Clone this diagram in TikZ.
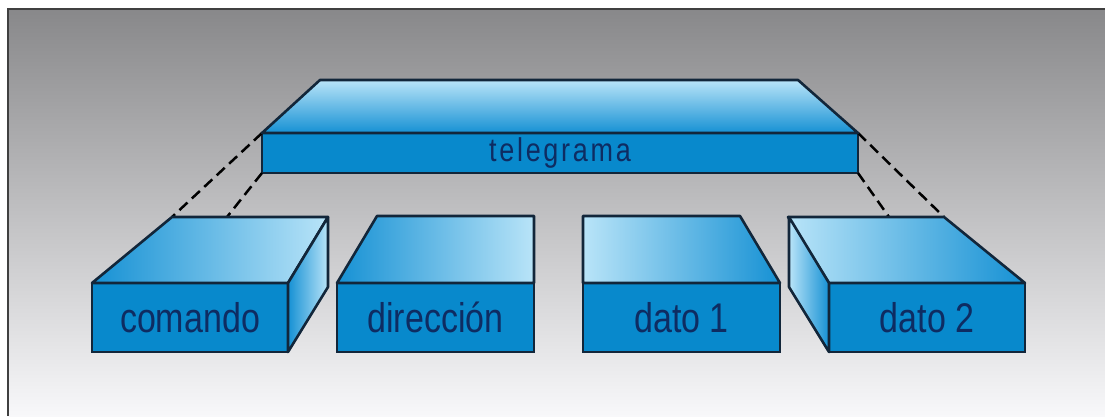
\documentclass[tikz,border=0pt]{standalone}
\usepackage{fontspec}
\setmainfont{Liberation Sans}
\usepackage{graphicx}
\usetikzlibrary{calc}
\definecolor{bgtop}{RGB}{136,136,138}
\definecolor{bgbottom}{RGB}{248,248,250}
\definecolor{toplight}{RGB}{185,228,248}
\definecolor{topdark}{RGB}{22,145,212}
\definecolor{frontblue}{RGB}{8,137,204}
\definecolor{edgeline}{RGB}{18,38,58}
\definecolor{labelblue}{RGB}{14,44,98}
\newcommand{\tallword}[1]{\scalebox{1}[1.22]{#1}}
\begin{document}
\begin{tikzpicture}[x=1pt,y=-1pt,
  frontface/.style={draw=edgeline,fill=frontblue,line width=2.6pt,inner sep=0pt,outer sep=0pt,
    minimum height=69pt,text=labelblue,font=\fontsize{34}{38}\selectfont},
  topface/.style={draw=edgeline,line width=2.6pt,line join=round},
  link/.style={line width=2.5pt,dash pattern=on 11pt off 6pt}]
\useasboundingbox (0,0) rectangle (1105,416);
\fill[white] (0,0) rectangle (1105,416);
\shade[top color=bgtop,bottom color=bgbottom] (8,9) rectangle (1105,416);
\draw[line width=2pt,black!75] (8,416) -- (8,9) -- (1105,9);

\node[frontface,minimum width=596pt,minimum height=40pt,
  font={\fontsize{27}{30}\selectfont\addfontfeatures{LetterSpace=10}}] (tel) at (560,153) {\tallword{telegrama}};
\node[frontface,minimum width=196pt] (cmd) at (190,317.5) {\tallword{comando}};
\node[frontface,minimum width=197pt] (dir) at (435.5,317.5) {\tallword{dirección}};
\node[frontface,minimum width=197pt] (dat1) at (681.5,317.5) {\tallword{dato 1}};
\node[frontface,minimum width=196pt] (dat2) at (927,317.5) {\tallword{dato 2}};

\coordinate (cmdback) at ($(cmd.north west)+(80,-66)$);
\coordinate (cmdmid) at ($(cmdback)+(55,0)$);
\coordinate (dat2back) at ($(dat2.north east)+(-81,-66)$);
\coordinate (dat2mid) at ($(dat2back)+(-55,0)$);

\draw[link] (tel.north west) -- (cmdback);
\draw[link] (tel.south west) -- (cmdmid);
\draw[link] (tel.north east) -- (dat2back);
\draw[link] (tel.south east) -- (dat2mid);

\shadedraw[topface,top color=toplight,bottom color=topdark] (tel.north west) -- ++(58,-53) -- ($(tel.north east)+(-60,-53)$) -- (tel.north east) -- cycle;
\shadedraw[topface,left color=topdark,right color=toplight] (cmd.north west) -- (cmdback) -- ++(156,0) -- (cmd.north east) -- cycle;
\shadedraw[topface,left color=topdark,right color=toplight] (cmd.north east) -- ++(40,-66) -- ++(0,70) -- (cmd.south east) -- cycle;
\shadedraw[topface,left color=topdark,right color=toplight] (dir.north west) -- ++(40,-67) -- ($(dir.north east)+(0,-67)$) -- (dir.north east) -- cycle;
\shadedraw[topface,left color=toplight,right color=topdark] (dat1.north west) -- ++(0,-67) -- ($(dat1.north east)+(-40,-67)$) -- (dat1.north east) -- cycle;
\shadedraw[topface,left color=toplight,right color=topdark] (dat2.north east) -- (dat2back) -- ++(-156,0) -- (dat2.north west) -- cycle;
\shadedraw[topface,left color=toplight,right color=topdark] (dat2.north west) -- ++(-40,-66) -- ++(0,70) -- (dat2.south west) -- cycle;
\end{tikzpicture}
\end{document}
